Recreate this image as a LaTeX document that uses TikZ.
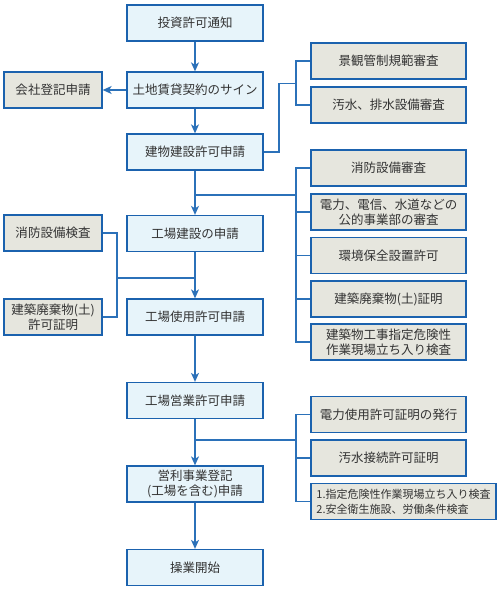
\documentclass[tikz,border=0pt]{standalone}
\usepackage{fontspec}
\newfontfamily\jp{Noto Sans CJK JP}
\usetikzlibrary{arrows.meta}
\definecolor{bord}{HTML}{1B62AE}
\definecolor{mainfill}{HTML}{E7F4FA}
\definecolor{sidefill}{HTML}{E6E6DE}
\definecolor{linec}{HTML}{2B71B9}
\definecolor{txt}{HTML}{333333}
\begin{document}
\begin{tikzpicture}[x=1pt,y=-1pt,
 box/.style={draw=bord, line width=1.3pt, minimum height=36pt, inner sep=0pt, align=center,
   font=\jp\fontsize{12.5}{15}\selectfont, text=txt},
 mainbox/.style={box, fill=mainfill, minimum width=136pt},
 leftbox/.style={box, fill=sidefill, minimum width=98pt},
 rightbox/.style={box, fill=sidefill, minimum width=155pt},
 conn/.style={draw=linec, line width=1.2pt},
 arr/.style={conn, -{Stealth[length=9pt,width=8pt,inset=2.5pt]}}]
\useasboundingbox (0,0) rectangle (502,607);
% main column
\node[mainbox] (m1) at (195,23) {投資許可通知};
\node[mainbox] (m2) at (195,90) {土地賃貸契約のサイン};
\node[mainbox] (m3) at (195,152) {建物建設許可申請};
\node[mainbox] (m4) at (195,233.5) {工場建設の申請};
\node[mainbox] (m5) at (195,317) {工場使用許可申請};
\node[mainbox] (m6) at (195,400.5) {工場営業許可申請};
\node[mainbox] (m7) at (195,484) {営利事業登記\\(工場を含む)申請};
\node[mainbox] (m8) at (195,567.5) {操業開始};
% left column
\node[leftbox] (l1) at (53,90) {会社登記申請};
\node[leftbox] (l2) at (53,233) {消防設備検査};
\node[leftbox] (l3) at (53,317) {建築廃棄物(土)\\許可証明};
% right column
\node[rightbox] (r1) at (388.5,61) {景観管制規範審査};
\node[rightbox] (r2) at (388.5,105) {汚水、排水設備審査};
\node[rightbox] (r3) at (388.5,168) {消防設備審査};
\node[rightbox] (r4) at (388.5,212) {電力、電信、水道などの\\公的事業部の審査};
\node[rightbox] (r5) at (388.5,255.5) {環境保全設置許可};
\node[rightbox] (r6) at (388.5,299) {建築廃棄物(土)証明};
\node[rightbox] (r7) at (388.5,342) {建築物工事指定危険性\\作業現場立ち入り検査};
\node[rightbox] (r8) at (388.5,414.5) {電力使用許可証明の発行};
\node[rightbox] (r9) at (388.5,458) {汚水接続許可証明};
\node[box, fill=sidefill, minimum width=185pt, align=left, font=\jp\fontsize{11}{15}\selectfont] (r10) at (403.5,501.5) {1.指定危険性作業現場立ち入り検査\\2.安全衛生施設、労働条件検査};
% coordinates
\coordinate (j1) at (279,83.5);
\coordinate (k1) at (296,83.5);
\coordinate (j2) at (195,195);
\coordinate (k2) at (117,278);
\coordinate (j3) at (195,440);
% arrows
\draw[arr] (m1) -- (m2);
\draw[arr] (m2) -- (l1);
\draw[arr] (m2) -- (m3);
\draw[arr] (m3) -- (m4);
\draw[arr] (m4) -- (m5);
\draw[arr] (m5) -- (m6);
\draw[arr] (m6) -- (m7);
\draw[arr] (m7) -- (m8);
% bracket 1
\draw[conn] (m3.east) -| (j1) -- (k1);
\draw[conn] (r1.west) -| (k1) |- (r2.west);
% bracket 2
\draw[conn] (j2) -- (j2 -| k1);
\draw[conn] (r3.west) -- (r3.west -| k1) -- (r7.west -| k1) -- (r7.west);
\draw[conn] (r4.west) -- (r4.west -| k1);
\draw[conn] (r5.west) -- (r5.west -| k1);
\draw[conn] (r6.west) -- (r6.west -| k1);
% left bracket
\draw[conn] (l2.east) -| (k2);
\draw[conn] (l3.east) -| (k2);
\draw[conn] (k2) -- (k2 -| m4.south);
% bracket 3
\draw[conn] (j3) -- (j3 -| k1);
\draw[conn] (r8.west) -- (r8.west -| k1) -- (r10.west -| k1) -- (r10.west);
\draw[conn] (r9.west) -- (r9.west -| k1);
\end{tikzpicture}
\end{document}
